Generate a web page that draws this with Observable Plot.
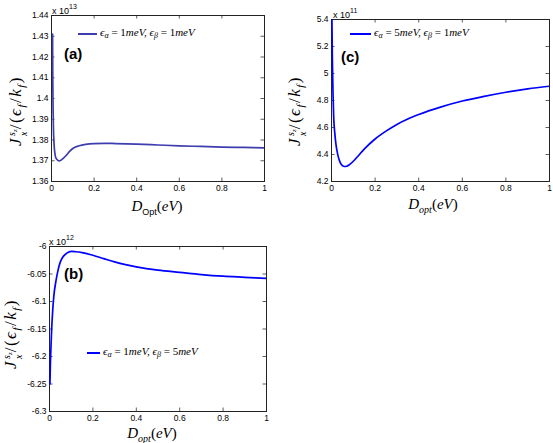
<!DOCTYPE html>
<html><head><meta charset="utf-8">
<script src="https://cdn.jsdelivr.net/npm/d3@7"></script>
<script src="https://cdn.jsdelivr.net/npm/@observablehq/plot@0.6"></script>
<style>
body{margin:0;background:#fff;}
#fig{position:relative;width:553px;height:443px;overflow:hidden;font-family:"Liberation Sans",Arial,sans-serif;color:#000;}
.panel{position:absolute;}
.ov{position:absolute;white-space:nowrap;line-height:1;}
.math{font-family:"Liberation Serif","DejaVu Serif",serif;font-style:italic;}
.up{font-style:normal;}
.exp{font-size:9px;}
.exp sup{font-size:7px;vertical-align:5px;}
.plab{font-weight:bold;font-size:15px;}
.leg{font-size:11px;display:flex;align-items:center;}
.leg .sw{display:inline-block;height:0;border-top:2px solid;margin-right:3px;}
.leg sub{font-size:8px;vertical-align:-2px;}
.xl{font-size:15px;transform:translate(-50%,-50%);}
.xl sub{font-size:10px;vertical-align:-4px;}
.yl{font-size:17px;letter-spacing:1.5px;transform:translate(-50%,-50%) rotate(-90deg);}
.yl .stk{display:inline-flex;flex-direction:column;vertical-align:middle;font-size:10px;line-height:0.95;margin-left:1px;letter-spacing:0;}
.yl .stk sub{font-size:7px;vertical-align:-2px;}
.yl sub{font-size:11px;vertical-align:-4px;}
</style>
</head><body>
<div id="fig"></div>
<script>
// ---------- data ----------
const xTicks = [0, 0.2, 0.4, 0.6, 0.8, 1];

// panel (a): eps_alpha = 1 meV, eps_beta = 1 meV  (values x 1e13)
const yTicksA = [1.36, 1.37, 1.38, 1.39, 1.40, 1.41, 1.42, 1.43, 1.44];
const xA = [0.005, 0.006, 0.0075, 0.009, 0.012, 0.016, 0.02, 0.03, 0.036, 0.045, 0.055, 0.07, 0.085, 0.1, 0.13, 0.16, 0.2, 0.25, 0.3, 0.4, 0.5, 0.6, 0.7, 0.8, 0.9, 1.0];
const yA = [1.431, 1.41, 1.395, 1.386, 1.378, 1.3735, 1.3715, 1.3702, 1.3699, 1.3703, 1.3711, 1.3727, 1.3745, 1.3759, 1.3772, 1.3779, 1.3783, 1.3784, 1.3783, 1.3780, 1.3776, 1.3772, 1.3769, 1.3766, 1.3764, 1.3762];

// panel (c): eps_alpha = 5 meV, eps_beta = 1 meV  (values x 1e11)
const yTicksC = [4.2, 4.4, 4.6, 4.8, 5.0, 5.2, 5.4];
const xC = [0.002, 0.004, 0.007, 0.01, 0.015, 0.02, 0.03, 0.04, 0.05, 0.06, 0.07, 0.08, 0.1, 0.12, 0.15, 0.2, 0.25, 0.3, 0.35, 0.4, 0.5, 0.6, 0.7, 0.8, 0.9, 1.0];
const yC = [5.40, 5.10, 4.85, 4.68, 4.56, 4.48, 4.39, 4.34, 4.318, 4.311, 4.313, 4.322, 4.35, 4.385, 4.44, 4.515, 4.573, 4.623, 4.663, 4.696, 4.751, 4.796, 4.831, 4.861, 4.886, 4.906];

// panel (b): eps_alpha = 1 meV, eps_beta = 5 meV  (values x 1e12)
const yTicksB = [-6.3, -6.25, -6.2, -6.15, -6.1, -6.05, -6.0];
const xB = [0.002, 0.004, 0.007, 0.01, 0.015, 0.02, 0.03, 0.04, 0.05, 0.06, 0.08, 0.1, 0.12, 0.15, 0.2, 0.25, 0.3, 0.35, 0.4, 0.5, 0.6, 0.7, 0.8, 0.9, 1.0];
const yB = [-6.25, -6.215, -6.18, -6.15, -6.115, -6.09, -6.062, -6.042, -6.028, -6.02, -6.012, -6.009, -6.0095, -6.011, -6.016, -6.022, -6.028, -6.033, -6.037, -6.043, -6.047, -6.051, -6.054, -6.056, -6.058];

// ---------- drawing ----------
const fig = document.getElementById("fig");
const fmt = d => String(+(+d).toFixed(3));

function panel({xs, ys, yDomain, yTicks, color, left, top, width, height, mL, mT, mR, mB}) {
  const data = xs.map((x, i) => ({x, y: ys[i]}));
  const fw = width - mL - mR, fh = height - mT - mB, tl = 3.5;
  const svg = Plot.plot({
    width, height, marginLeft: mL, marginTop: mT, marginRight: mR, marginBottom: mB,
    style: {fontSize: "8.5px", fontFamily: "'Liberation Sans', Arial, sans-serif", color: "#000", background: "transparent"},
    x: {domain: [0, 1]},
    y: {domain: yDomain},
    marks: [
      Plot.ruleX(xTicks, {x: d => d, insetTop: fh - tl, stroke: "#333", strokeWidth: 0.8}),
      Plot.ruleX(xTicks, {x: d => d, insetBottom: fh - tl, stroke: "#333", strokeWidth: 0.8}),
      Plot.ruleY(yTicks, {y: d => d, insetRight: fw - tl, stroke: "#333", strokeWidth: 0.8}),
      Plot.ruleY(yTicks, {y: d => d, insetLeft: fw - tl, stroke: "#333", strokeWidth: 0.8}),
      Plot.frame({stroke: "#222", strokeWidth: 1}),
      Plot.line(data, {x: "x", y: "y", stroke: color, strokeWidth: 1.7, curve: "monotone-x", clip: true}),
      Plot.axisX({ticks: xTicks, tickSize: 0, tickPadding: 3, tickFormat: fmt, label: null}),
      Plot.axisY({ticks: yTicks, tickSize: 0, tickPadding: 3, tickFormat: fmt, label: null})
    ]
  });
  svg.classList.add("panel");
  svg.style.left = left + "px";
  svg.style.top = top + "px";
  fig.appendChild(svg);
}

panel({xs: xA, ys: yA, yDomain: [1.36, 1.44], yTicks: yTicksA, color: "#3d3db0",
  left: 0, top: 0, width: 275, height: 225, mL: 51, mT: 15, mR: 11, mB: 44});
panel({xs: xC, ys: yC, yDomain: [4.2, 5.4], yTicks: yTicksC, color: "#0000ff",
  left: 280, top: 0, width: 273, height: 225, mL: 51, mT: 19, mR: 4, mB: 44});
panel({xs: xB, ys: yB, yDomain: [-6.3, -6.0], yTicks: yTicksB, color: "#0000ff",
  left: 0, top: 225, width: 275, height: 218, mL: 49, mT: 21, mR: 9, mB: 32});

function ov(html, cls, x, y) {
  const d = document.createElement("div");
  d.className = "ov " + cls;
  d.style.left = x + "px";
  d.style.top = y + "px";
  d.innerHTML = html;
  fig.appendChild(d);
}

// exponent labels
ov("x 10<sup>13</sup>", "exp", 52, 3);
ov("x 10<sup>11</sup>", "exp", 333, 7);
ov("x 10<sup>12</sup>", "exp", 49, 234);

// panel letters
ov("(a)", "plab", 64, 46);
ov("(c)", "plab", 341, 49);
ov("(b)", "plab", 64, 266);

// legends
const legA = 'ϵ<sub>α</sub> <span class="up">= 1</span><i>meV</i>, ϵ<sub>β</sub> <span class="up">= 1</span><i>meV</i>';
const legC = 'ϵ<sub>α</sub> <span class="up">= 5</span><i>meV</i>, ϵ<sub>β</sub> <span class="up">= 1</span><i>meV</i>';
const legB = 'ϵ<sub>α</sub> <span class="up">= 1</span><i>meV</i>, ϵ<sub>β</sub> <span class="up">= 5</span><i>meV</i>';
ov('<span class="sw" style="width:19px;border-color:#3d3db0"></span><span class="math">' + legA + '</span>', "leg", 78, 27);
ov('<span class="sw" style="width:21px;border-color:#0000ff"></span><span class="math">' + legC + '</span>', "leg", 350, 27);
ov('<span class="sw" style="width:13px;border-color:#0000ff"></span><span class="math">' + legB + '</span>', "leg", 87, 346);

// x labels
ov('<span class="math">D<sub class="up" style="font-family:\'Liberation Sans\',Arial,sans-serif;font-size:9px">Opt</sub><span class="up">(</span>eV<span class="up">)</span></span>', "xl", 157, 207);
ov('<span class="math">D<sub>opt</sub><span class="up">(</span>eV<span class="up">)</span></span>', "xl", 433, 205);
ov('<span class="math">D<sub>opt</sub><span class="up">(</span>eV<span class="up">)</span></span>', "xl", 152, 434);

// y labels
const ylab = '<span class="math">J<span class="stk"><span>s<sub>z</sub></span><span>x</span></span><span class="up">/(</span>ϵ<sub>f</sub><span class="up">/</span>k<sub>f</sub><span class="up">)</span></span>';
ov(ylab, "yl", 18, 111);
ov(ylab, "yl", 297, 111);
ov(ylab, "yl", 13, 334);
</script>
</body></html>
